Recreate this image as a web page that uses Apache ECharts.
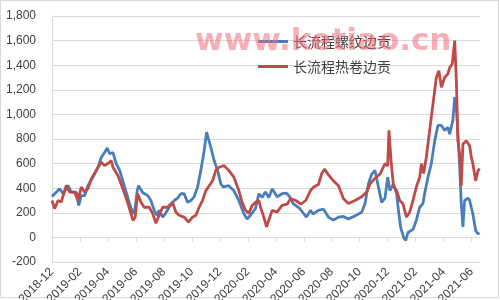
<!DOCTYPE html>
<html>
<head>
<meta charset="utf-8">
<script src="https://cdn.jsdelivr.net/npm/echarts@6/dist/echarts.min.js"></script>
<style>html,body{margin:0;padding:0;background:#fff}#c{width:500px;height:300px}</style>
</head>
<body>
<div id="c"></div>
<script>
// x = months since 2018-12 (fractional), tick every 2 months
const tickLabels = ["2018-12","2019-02","2019-04","2019-06","2019-08","2019-10","2019-12","2020-02","2020-04","2020-06","2020-08","2020-10","2020-12","2021-02","2021-04","2021-06"];
const seriesNames = ["长流程螺纹边贡", "长流程热卷边贡"];

const rebar = [
[0.00,332],[0.55,395],[0.79,355],[1.14,422],[1.38,368],[1.74,368],[1.91,260],[2.09,340],[2.34,340],[2.57,422],
[2.93,490],[3.29,570],[3.52,650],[3.76,690],[3.95,727],[4.12,680],[4.36,690],[4.59,600],[4.84,545],[5.19,410],
[5.55,275],[5.79,190],[5.96,245],[6.09,380],[6.19,420],[6.48,365],[6.84,340],[7.07,300],[7.31,220],[7.48,180],
[7.66,220],[7.91,165],[8.14,200],[8.38,245],[8.74,300],[8.98,320],[9.21,355],[9.45,355],[9.69,285],[9.93,300],
[10.16,330],[10.41,410],[10.64,545],[10.88,705],[11.05,855],[11.19,840],[11.36,730],[11.59,625],[11.84,545],[12.07,435],
[12.24,410],[12.64,420],[13.00,380],[13.36,300],[13.71,195],[13.95,150],[14.19,180],[14.55,235],[14.79,355],[15.02,325],
[15.26,370],[15.50,325],[15.74,395],[16.09,330],[16.45,355],[16.76,360],[17.00,330],[17.24,275],[17.71,235],[18.19,165],
[18.48,220],[18.66,190],[19.05,220],[19.41,230],[19.76,165],[20.12,140],[20.48,165],[20.84,170],[21.19,150],[21.66,175],
[22.14,205],[22.38,275],[22.62,435],[22.86,515],[23.09,545],[23.34,410],[23.57,285],[23.81,320],[24.00,490],[24.16,380],
[24.41,435],[24.64,355],[24.79,200],[24.93,80],[25.14,0],[25.29,-25],[25.45,40],[25.81,65],[26.05,140],[26.29,245],
[26.52,275],[26.64,355],[26.88,490],[27.12,600],[27.36,785],[27.59,910],[27.84,910],[28.07,870],[28.31,895],[28.43,840],
[28.66,950],[28.79,1140],[28.91,1060],[29.02,840],[29.14,600],[29.26,275],[29.38,85],[29.50,300],[29.74,320],[29.86,300],
[30.09,190],[30.29,55],[30.45,30],[30.57,30]
];

const coil = [
[0.00,300],[0.19,233],[0.43,300],[0.66,287],[1.02,422],[1.26,368],[1.62,368],[1.86,300],[2.09,410],[2.34,368],
[2.57,395],[2.81,476],[3.16,545],[3.52,610],[3.76,585],[4.00,600],[4.24,625],[4.36,570],[4.71,503],[5.07,395],
[5.43,275],[5.79,138],[5.95,165],[6.12,355],[6.36,285],[6.59,245],[6.95,245],[7.19,195],[7.43,115],[7.66,180],
[7.91,245],[8.26,245],[8.62,285],[8.86,205],[9.09,180],[9.45,165],[9.76,125],[10.05,165],[10.29,180],[10.52,245],
[10.76,300],[11.00,380],[11.24,420],[11.48,460],[11.71,545],[11.95,570],[12.29,585],[12.64,545],[13.00,490],[13.36,380],
[13.59,285],[13.84,220],[14.07,195],[14.31,260],[14.55,285],[14.79,300],[14.91,245],[15.14,165],[15.34,85],[15.50,140],
[15.74,220],[16.09,205],[16.45,260],[16.81,270],[17.05,315],[17.43,300],[17.79,270],[18.14,300],[18.48,380],[18.71,410],
[19.05,430],[19.29,520],[19.48,555],[19.76,510],[20.12,460],[20.48,420],[20.84,315],[21.19,275],[21.66,300],[22.14,330],
[22.50,370],[22.74,435],[23.09,480],[23.45,515],[23.81,600],[24.00,580],[24.09,870],[24.24,625],[24.41,420],[24.64,380],
[24.86,300],[25.09,275],[25.34,165],[25.57,205],[25.81,300],[26.05,410],[26.29,490],[26.41,600],[26.57,520],[26.76,650],
[27.00,870],[27.24,1085],[27.48,1300],[27.66,1355],[27.84,1220],[28.07,1300],[28.31,1330],[28.43,1380],[28.62,1410],[28.79,1600],
[28.91,1275],[29.02,785],[29.14,680],[29.26,420],[29.38,760],[29.62,785],[29.86,745],[29.98,650],[30.09,600],[30.29,460],
[30.45,540],[30.57,560]
];

const chart = echarts.init(document.getElementById('c'), null, {renderer: 'canvas'});
chart.setOption({
  animation: false,
  backgroundColor: '#fff',
  grid: {left: 52, right: 20, top: 16, bottom: 38, outerBoundsMode: 'none', containLabel: false},
  legend: {
    orient: 'vertical', left: 253, top: 28, itemGap: 8,
    icon: 'rect', itemWidth: 30, itemHeight: 3,
    textStyle: {fontFamily: 'Noto Sans CJK SC', fontSize: 14, color: '#404040', lineHeight: 17},
    data: seriesNames
  },
  xAxis: {
    type: 'value', min: 0, max: 30.6, interval: 2,
    axisLine: {onZero: true, lineStyle: {color: '#d9d9d9'}},
    axisTick: {show: true, length: 4, lineStyle: {color: '#d9d9d9'}},
    splitLine: {show: false},
    axisLabel: {
      rotate: 45, fontSize: 12, color: '#404040', fontFamily: 'Liberation Sans', margin: 8,
      showMaxLabel: false, hideOverlap: false,
      formatter: v => (Math.abs(v / 2 - Math.round(v / 2)) < 1e-6 && tickLabels[Math.round(v / 2)]) || ''
    }
  },
  yAxis: {
    type: 'value', min: -200, max: 1800, interval: 200,
    axisLine: {show: true, lineStyle: {color: '#d9d9d9'}},
    axisTick: {show: false},
    splitLine: {lineStyle: {color: '#d9d9d9'}},
    axisLabel: {fontSize: 12, color: '#404040', fontFamily: 'Liberation Sans', margin: 16,
      formatter: v => v.toLocaleString('en-US')}
  },
  series: [
    {name: seriesNames[0], type: 'line', data: rebar, showSymbol: false, color: '#4a7ebb', lineStyle: {width: 2.8}},
    {name: seriesNames[1], type: 'line', data: coil, showSymbol: false, color: '#be4b48', lineStyle: {width: 2.8}}
  ],
  graphic: [
    {type: 'rect', shape: {x: 0.5, y: 0.5, width: 498, height: 297}, style: {fill: 'none', stroke: '#d9d9d9'}, z: -1},
    {type: 'text', left: 195, top: 26, z: 100, style: {text: 'www.ketiao.cn', fontSize: 31, fontWeight: 'bold', fontFamily: 'DejaVu Sans', fill: 'rgba(240,110,120,0.55)'}}
  ]
});
</script>
</body>
</html>
